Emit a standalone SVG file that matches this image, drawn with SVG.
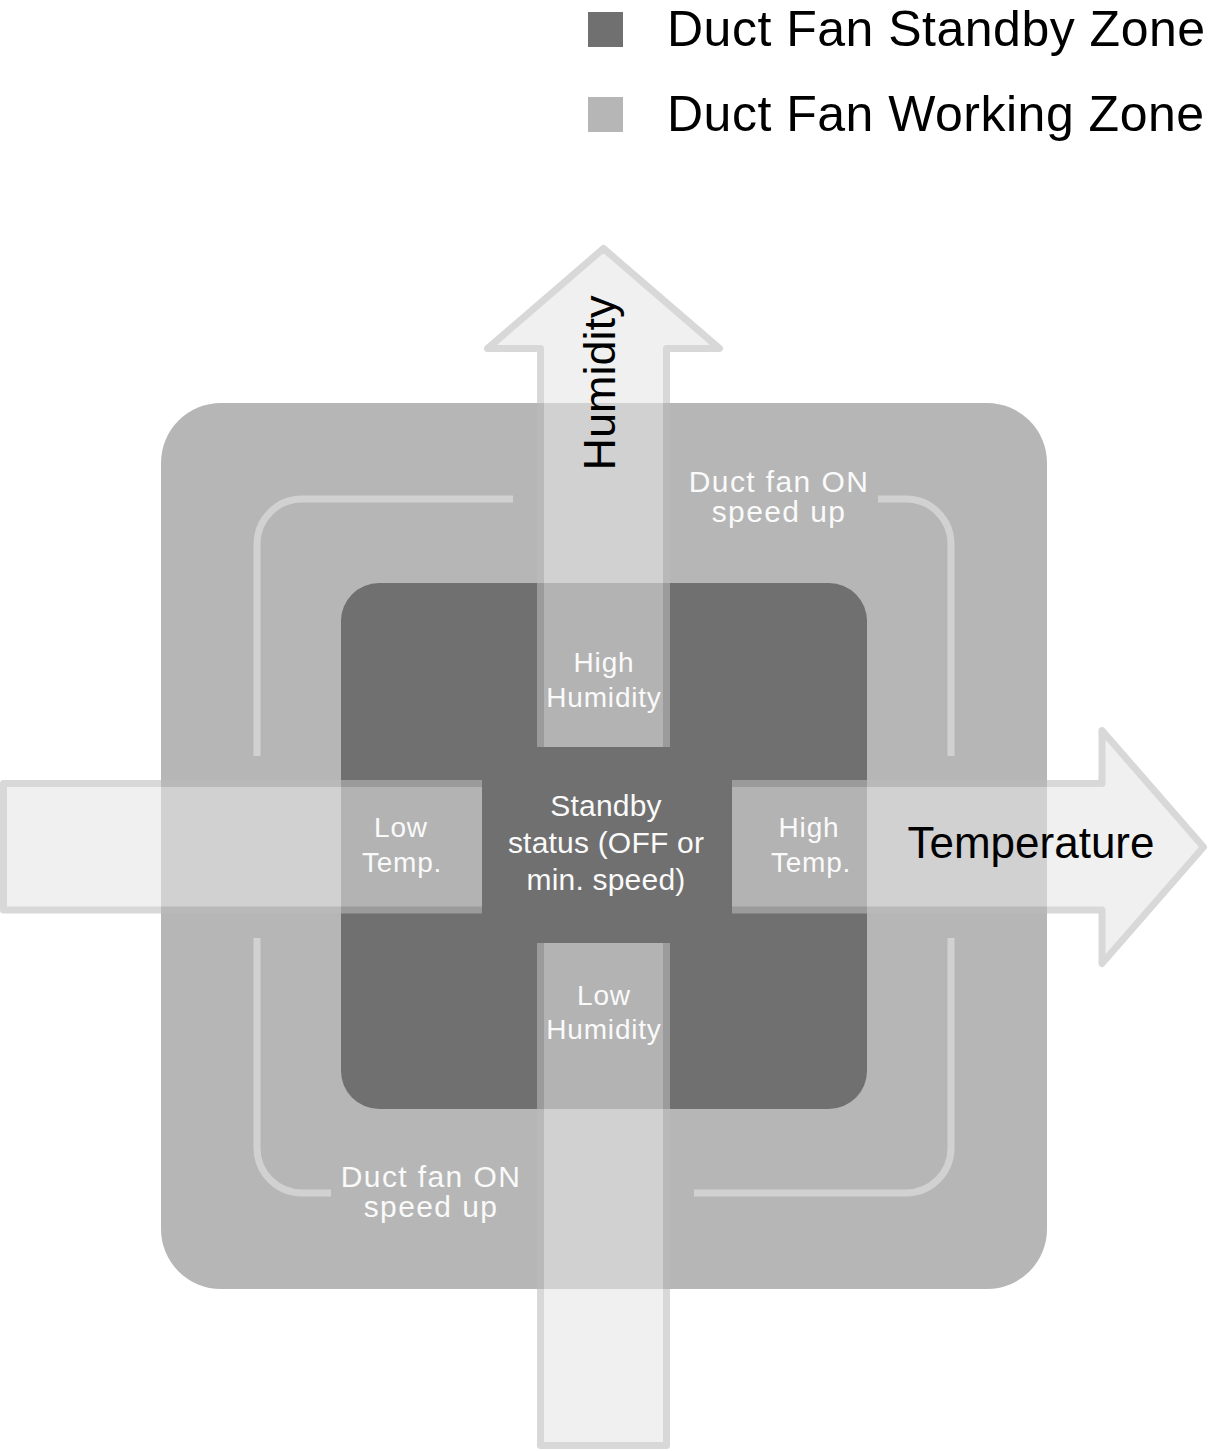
<svg xmlns="http://www.w3.org/2000/svg" width="1208" height="1451" viewBox="0 0 1208 1451">
  <style>
    .lg { font-family: "Liberation Sans", Arial, sans-serif; font-size: 50px; fill: #000000; letter-spacing: 0.5px; }
    .ax { font-family: "Liberation Sans", Arial, sans-serif; font-size: 45px; fill: #000000; text-anchor: middle; }
    .sm { font-family: "Liberation Sans", Arial, sans-serif; font-size: 28px; fill: #fafafa; text-anchor: middle; letter-spacing: 0.8px; }
    .md { font-family: "Liberation Sans", Arial, sans-serif; font-size: 30px; fill: #fafafa; text-anchor: middle; letter-spacing: 1.4px; }
    .ct { font-family: "Liberation Sans", Arial, sans-serif; font-size: 30px; fill: #fafafa; text-anchor: middle; letter-spacing: 0.2px; }
    .arrow { fill: #e6e6e6; stroke: #bcbcbc; stroke-width: 7; stroke-linejoin: round; }
    .bracket { fill: none; stroke: #d1d1d1; stroke-width: 7; }
  </style>
  <defs>
    <mask id="centerCut" maskUnits="userSpaceOnUse" x="0" y="0" width="1208" height="1451">
      <rect x="0" y="0" width="1208" height="1451" fill="#ffffff"/>
      <rect x="482" y="747" width="250" height="196" fill="#000000"/>
    </mask>
  </defs>
  <rect x="0" y="0" width="1208" height="1451" fill="#ffffff"/>

  <g id="legend">
    <rect x="588" y="12" width="35" height="35" fill="#707070"/>
    <text class="lg" x="667" y="46">Duct Fan Standby Zone</text>
    <rect x="588" y="97" width="35" height="35" fill="#b5b6b5"/>
    <text class="lg" x="667" y="131">Duct Fan Working Zone</text>
  </g>

  <g id="working-zone">
    <rect x="161" y="403" width="886" height="886" rx="60" ry="60" fill="#b5b6b5"/>
  </g>

  <g id="standby-zone">
    <rect x="341" y="583" width="526" height="526" rx="38" ry="38" fill="#707070"/>
  </g>

  <g id="connectors">
    <path class="bracket" d="M513,499 H302 A45,45 0 0 0 257,544 V756"/>
    <path class="bracket" d="M878,499 H906 A45,45 0 0 1 951,544 V756"/>
    <path class="bracket" d="M257,938 V1148 A45,45 0 0 0 302,1193 H331"/>
    <path class="bracket" d="M694,1193 H906 A45,45 0 0 0 951,1148 V938"/>
  </g>

  <g id="axes" opacity="0.57" mask="url(#centerCut)">
    <path id="humidity-axis" class="arrow" d="M603.5,248.5 L719.5,348.5 L666.5,348.5 L666.5,1445.5 L540.5,1445.5 L540.5,348.5 L487.5,348.5 Z"/>
    <path id="temperature-axis" class="arrow" d="M3.5,783.5 L1102,783.5 L1102,730.5 L1203.5,847 L1102,963.5 L1102,910 L3.5,910 Z"/>
  </g>

  <g id="axis-labels">
    <text class="ax" transform="translate(615,383) rotate(-90)">Humidity</text>
    <text class="ax" x="1031" y="858" style="font-size:44px">Temperature</text>
  </g>

  <g id="standby-status">
    <text class="ct" x="606" y="816">Standby<tspan x="606" y="853">status (OFF or</tspan><tspan x="606" y="890">min. speed)</tspan></text>
  </g>

  <g id="high-humidity">
    <text class="sm" x="604" y="672">High<tspan x="604" y="707">Humidity</tspan></text>
  </g>

  <g id="low-humidity">
    <text class="sm" x="604" y="1005">Low<tspan x="604" y="1039">Humidity</tspan></text>
  </g>

  <g id="low-temp">
    <text class="sm" x="401" y="837">Low<tspan x="402" y="872">Temp.</tspan></text>
  </g>

  <g id="high-temp">
    <text class="sm" x="809" y="837">High<tspan x="811" y="872">Temp.</tspan></text>
  </g>

  <g id="duct-fan-on-top">
    <text class="md" x="779" y="492">Duct fan ON<tspan x="779" y="522">speed up</tspan></text>
  </g>

  <g id="duct-fan-on-bottom">
    <text class="md" x="431" y="1187">Duct fan ON<tspan x="431" y="1217">speed up</tspan></text>
  </g>
</svg>
